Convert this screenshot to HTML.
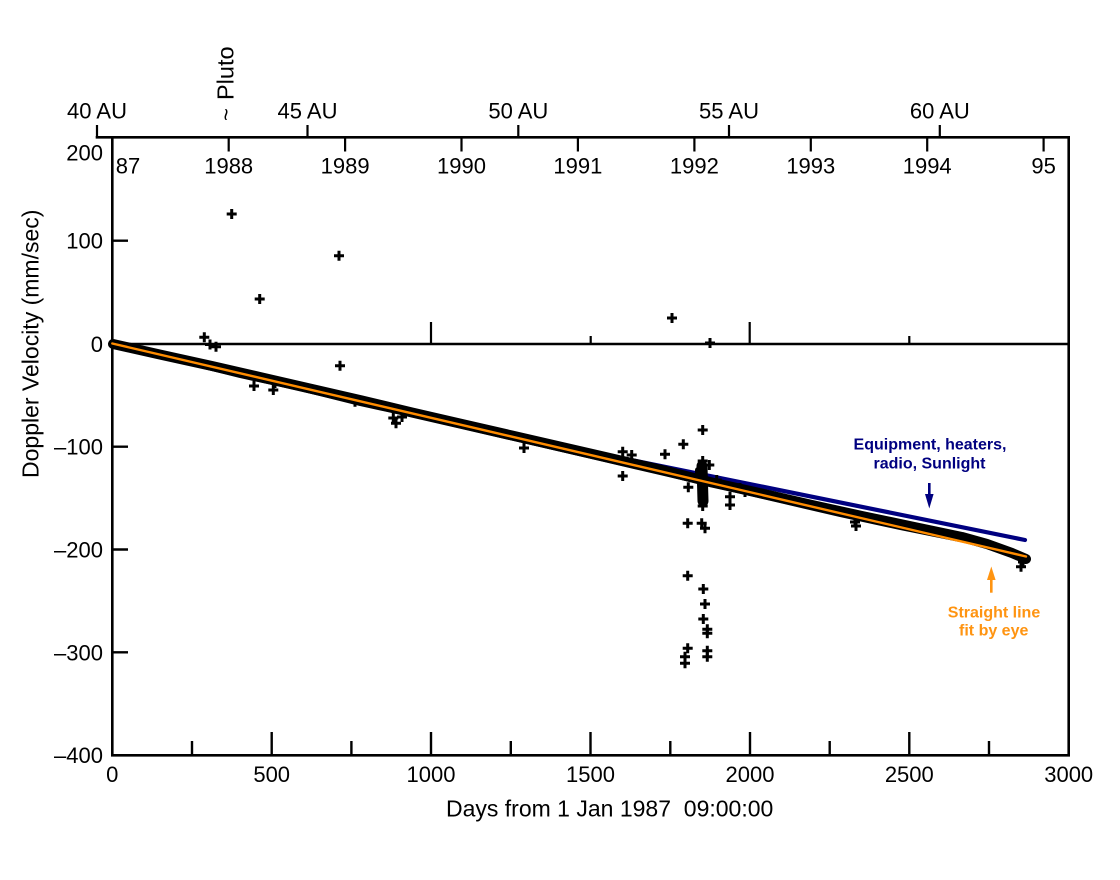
<!DOCTYPE html>
<html>
<head>
<meta charset="utf-8">
<style>
html,body{margin:0;padding:0;background:#fff;}
svg{display:block;}
</style>
</head>
<body>
<svg width="1120" height="880" viewBox="0 0 1120 880" xmlns="http://www.w3.org/2000/svg" xmlns:xlink="http://www.w3.org/1999/xlink" font-family="'Liberation Sans', Arial, sans-serif">
<defs>
<path id="m" d="M-5 0h10M0 -5v10" stroke="#000" stroke-width="3" fill="none"/>
</defs>
<rect width="1120" height="880" fill="#fff"/>

<g stroke="#000" stroke-width="2.6" fill="none" stroke-linecap="square">
<path d="M97 137.3H1068.7V755.3H112.3V137.3"/>
</g>
<line x1="112.3" y1="344" x2="1068.7" y2="344" stroke="#000" stroke-width="2.4"/>
<path stroke="#000" stroke-width="2.2" fill="none" d="M431 344V322M590.7 344V336M749.7 344V322M909.3 344V336"/>
<path stroke="#000" stroke-width="2.4" fill="none" d="M112.3 240.7H128M112.3 344H128M112.3 446.7H128M112.3 549.5H128M112.3 652.3H128"/>
<path stroke="#000" stroke-width="2.4" fill="none" d="M192 755V741M271.7 755V732M351.4 755V741M431 755V732M510.8 755V741M590.5 755V732M670.3 755V741M750 755V732M829.7 755V741M909.3 755V732M989 755V741"/>
<path stroke="#000" stroke-width="2.2" fill="none" d="M228.7 137V151.5M345.1 137V151.5M461.5 137V151.5M577.9 137V151.5M694.4 137V151.5M810.8 137V151.5M927.2 137V151.5M1043.6 137V151.5"/>
<path stroke="#000" stroke-width="2.2" fill="none" d="M97 137.5V125M307.5 137.5V125M518.3 137.5V125M729 137.5V125M939.8 137.5V125"/>

<g font-size="22" fill="#000" text-anchor="end">
<text x="103" y="160.5">200</text>
<text x="103" y="248.7">100</text>
<text x="103" y="352">0</text>
<text x="103" y="454.7">–100</text>
<text x="103" y="557.5">–200</text>
<text x="103" y="660.3">–300</text>
<text x="103" y="763">–400</text>
</g>

<g font-size="22" fill="#000" text-anchor="middle">
<text x="112.3" y="782">0</text>
<text x="271.7" y="782">500</text>
<text x="431" y="782">1000</text>
<text x="590.5" y="782">1500</text>
<text x="750" y="782">2000</text>
<text x="909.3" y="782">2500</text>
<text x="1068.7" y="782">3000</text>
<text x="128" y="173.5">87</text>
<text x="228.7" y="173.5">1988</text>
<text x="345.1" y="173.5">1989</text>
<text x="461.5" y="173.5">1990</text>
<text x="577.9" y="173.5">1991</text>
<text x="694.4" y="173.5">1992</text>
<text x="810.8" y="173.5">1993</text>
<text x="927.2" y="173.5">1994</text>
<text x="1043.6" y="173.5">95</text>
<text x="97" y="118.5">40 AU</text>
<text x="307.5" y="118.5">45 AU</text>
<text x="518.3" y="118.5">50 AU</text>
<text x="729" y="118.5">55 AU</text>
<text x="939.8" y="118.5">60 AU</text>
</g>

<text x="233.3" y="121" font-size="22" fill="#000" transform="rotate(-90 233.3 121)">~</text>
<text x="233.3" y="100" font-size="23.5" fill="#000" transform="rotate(-90 233.3 100)">Pluto</text>
<text x="38.5" y="478" font-size="23" fill="#000" transform="rotate(-90 38.5 478)">Doppler Velocity (mm/sec)</text>
<text x="446" y="816.5" font-size="23" fill="#000">Days from 1 Jan 1987 &#160;09:00:00</text>

<line x1="550" y1="443.5" x2="1025" y2="540" stroke="#000080" stroke-width="4.2" stroke-linecap="round"/>

<polyline fill="none" stroke="#000" stroke-width="10" stroke-linejoin="round" stroke-linecap="round" points="113,344 162,355 212,366 262,377.5 312,389 362,400.5 412,412.5 462,424 512,435.5 562,447 612,458.5 662,470 712,482.5 762,493.5 812,505 862,516 912,526.5 962,537 987,544 1012,553 1026,559"/>
<polyline fill="none" stroke="#000" stroke-width="6" stroke-linejoin="round" stroke-linecap="round" points="120,347 180,360 240,375 300,388 360,403 420,416 480,430 540,444 600,458 660,472 720,486 780,500 840,514 900,527 960,539 990,546 1020,557"/>
<line x1="702" y1="466" x2="703" y2="501" stroke="#000" stroke-width="11" stroke-linecap="round"/>
<line x1="698" y1="470" x2="698" y2="478" stroke="#000" stroke-width="6" stroke-linecap="round"/>

<g>
<use xlink:href="#m" x="231.7" y="214"/>
<use xlink:href="#m" x="339" y="255.7"/>
<use xlink:href="#m" x="259.7" y="299"/>
<use xlink:href="#m" x="204.3" y="337.3"/>
<use xlink:href="#m" x="210" y="344.5"/>
<use xlink:href="#m" x="216" y="346.7"/>
<use xlink:href="#m" x="340" y="365.7"/>
<use xlink:href="#m" x="254" y="386"/>
<use xlink:href="#m" x="273.3" y="390"/>
<use xlink:href="#m" x="275" y="383"/>
<use xlink:href="#m" x="355" y="401.7"/>
<use xlink:href="#m" x="393.3" y="418"/>
<use xlink:href="#m" x="396" y="423.3"/>
<use xlink:href="#m" x="402" y="417"/>
<use xlink:href="#m" x="672" y="318"/>
<use xlink:href="#m" x="710" y="343"/>
<use xlink:href="#m" x="524" y="448"/>
<use xlink:href="#m" x="622.7" y="451.7"/>
<use xlink:href="#m" x="631.7" y="455"/>
<use xlink:href="#m" x="622.7" y="476"/>
<use xlink:href="#m" x="665" y="454.3"/>
<use xlink:href="#m" x="683.3" y="444.3"/>
<use xlink:href="#m" x="702.7" y="430"/>
<use xlink:href="#m" x="702.7" y="461"/>
<use xlink:href="#m" x="709.3" y="465"/>
<use xlink:href="#m" x="688.3" y="487.3"/>
<use xlink:href="#m" x="716.7" y="480"/>
<use xlink:href="#m" x="702.7" y="506"/>
<use xlink:href="#m" x="730" y="496.7"/>
<use xlink:href="#m" x="730" y="505"/>
<use xlink:href="#m" x="687.7" y="523.3"/>
<use xlink:href="#m" x="701.7" y="523.3"/>
<use xlink:href="#m" x="705" y="528.3"/>
<use xlink:href="#m" x="687.7" y="575.7"/>
<use xlink:href="#m" x="703.3" y="589"/>
<use xlink:href="#m" x="705" y="604"/>
<use xlink:href="#m" x="703.3" y="619"/>
<use xlink:href="#m" x="707.3" y="629.3"/>
<use xlink:href="#m" x="707.3" y="633.3"/>
<use xlink:href="#m" x="687.7" y="648.3"/>
<use xlink:href="#m" x="685" y="656.7"/>
<use xlink:href="#m" x="685" y="663.3"/>
<use xlink:href="#m" x="707.3" y="650.7"/>
<use xlink:href="#m" x="707.3" y="656.7"/>
<use xlink:href="#m" x="855" y="522"/>
<use xlink:href="#m" x="856" y="526"/>
<use xlink:href="#m" x="1021" y="566.7"/>
<use xlink:href="#m" x="1023" y="562"/>
<use xlink:href="#m" x="740" y="488"/>
<use xlink:href="#m" x="745" y="492"/>
</g>

<line x1="112.3" y1="343.5" x2="1026" y2="556.5" stroke="#ff8c00" stroke-width="2.4" stroke-linecap="round"/>

<g font-size="16" font-weight="bold" text-anchor="middle" fill="#000080">
<text x="930" y="449.3">Equipment, heaters,</text>
<text x="929.5" y="468.3">radio, Sunlight</text>
</g>
<line x1="929.3" y1="483" x2="929.3" y2="497" stroke="#000080" stroke-width="2.6"/>
<polygon points="925,494 933.6,494 929.3,508.5" fill="#000080"/>

<g font-size="16" font-weight="bold" text-anchor="middle" fill="#ff9411">
<text x="994" y="617.7">Straight line</text>
<text x="993.7" y="635.5">fit by eye</text>
</g>
<line x1="991.3" y1="578" x2="991.3" y2="592.7" stroke="#ff9411" stroke-width="2.6"/>
<polygon points="987,580 995.6,580 991.3,566.5" fill="#ff9411"/>
</svg>
</body>
</html>
